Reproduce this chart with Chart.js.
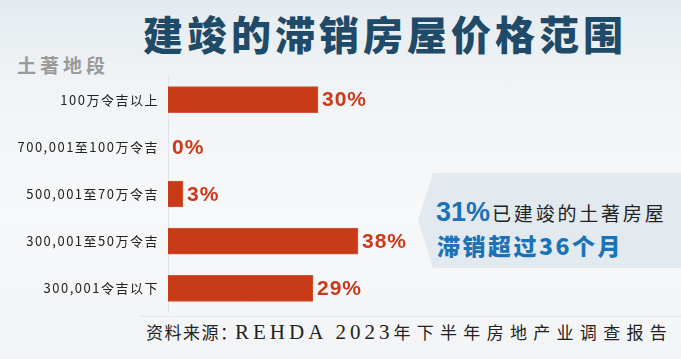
<!DOCTYPE html>
<html><head><meta charset="utf-8">
<script src="https://cdn.jsdelivr.net/npm/chart.js@4/dist/chart.umd.min.js"></script>
<style>
html,body{margin:0;padding:0;}
body{width:681px;height:359px;position:relative;overflow:hidden;
background:linear-gradient(180deg,#e4ebef 0%,#f1f4f6 25%,#f7f8f9 60%,#f2f4f5 100%);
font-family:"Noto Sans CJK SC","Noto Sans",sans-serif;}
#c{position:absolute;left:0;top:0;}
.t{position:absolute;white-space:nowrap;}
#title{left:143px;top:4px;font-size:40px;font-weight:900;color:#1f4a68;letter-spacing:4px;}
#sub{left:17px;top:51px;font-size:19px;font-weight:700;color:#9a9a9a;letter-spacing:4px;}
#box{position:absolute;left:418px;top:173px;width:263px;height:95px;background:#e2eaf0;
clip-path:polygon(15px 0,100% 0,100% 100%,15px 100%,0 50%);}
#l1{left:436px;top:197px;color:#222;font-size:19px;letter-spacing:2.8px;}
#l1 b{color:#1c72b6;font-size:27px;font-weight:800;letter-spacing:0;margin-right:2px;font-family:"Liberation Sans","Noto Sans CJK SC",sans-serif;}
#l2{left:437px;top:228px;color:#1c72b6;font-size:23px;font-weight:800;letter-spacing:2.5px;}
#src{left:146px;top:318px;color:#222;line-height:28px;}
#src .c1{font-size:17px;letter-spacing:1.5px;font-family:"Noto Sans CJK SC",sans-serif;}
#src .co{font-size:17px;letter-spacing:-4px;margin-right:2px;font-family:"Noto Sans CJK SC",sans-serif;}
#src .la{font-size:21px;letter-spacing:4px;font-family:"Liberation Serif",serif;}
#src .c2{font-size:17px;letter-spacing:6.3px;font-family:"Noto Sans CJK SC",sans-serif;}
#line{position:absolute;left:140px;right:0;top:316px;height:1px;background:#e2e6e8;}
</style></head><body>
<div id="box"></div>
<div class="t" id="title">建竣的滞销房屋价格范围</div>
<div class="t" id="sub">土著地段</div>
<div class="t" id="l1"><b>31%</b>已建竣的土著房屋</div>
<div class="t" id="l2">滞销超过36个月</div>
<div id="line"></div>
<div class="t" id="src"><span class="c1">资料来源</span><span class="co">：</span><span class="la">REHDA 2023</span><span class="c2">年下半年房地产业调查报告</span></div>
<canvas id="c" width="681" height="359"></canvas>
<script>
const categories = ["100万令吉以上","700,001至100万令吉","500,001至70万令吉","300,001至50万令吉","300,001令吉以下"];
const shares = [30, 0, 3, 38, 29];
const valueLabels = ["30%","0%","3%","38%","29%"];

const valuePlugin = {
  id:'valueLabels',
  afterDatasetsDraw(chart){
    const ctx = chart.ctx;
    const xs = chart.scales.x, ys = chart.scales.y;
    ctx.save();
    ctx.letterSpacing = '1px';
    ctx.font = '800 21px "Liberation Sans","Noto Sans",sans-serif';
    ctx.fillStyle = '#c9391a';
    ctx.textBaseline = 'middle';
    ctx.textAlign = 'left';
    shares.forEach((v,i)=>{
      const x = xs.getPixelForValue(v) + 4;
      const y = ys.getPixelForValue(i) + 1;
      ctx.fillText(valueLabels[i], x, y);
    });
    ctx.restore();
  }
};
const spacingPlugin = {
  id:'spacing',
  beforeDraw(chart){ chart.ctx.letterSpacing = '1.5px'; },
  afterDraw(chart){ chart.ctx.letterSpacing = '0px'; }
};

new Chart(document.getElementById('c'), {
  type:'bar',
  data:{labels:categories, datasets:[{data:shares, backgroundColor:'#c93a17', borderColor:'#d0573a', borderWidth:1, barThickness:26}]},
  options:{
    responsive:false, animation:false, indexAxis:'y',
    layout:{padding:{left:0,right:13,top:76,bottom:47}},
    plugins:{legend:{display:false},tooltip:{enabled:false}},
    scales:{
      x:{display:false,min:0,max:100},
      y:{
        afterFit(s){ s.width = 168; },
        grid:{display:false,drawTicks:false},
        border:{display:true,color:'#dfe3e5',width:1},
        ticks:{color:'#222',padding:9,font:{family:'"Noto Sans CJK SC","Noto Sans",sans-serif',size:13}}
      }
    }
  },
  plugins:[spacingPlugin,valuePlugin]
});
</script>
</body></html>
